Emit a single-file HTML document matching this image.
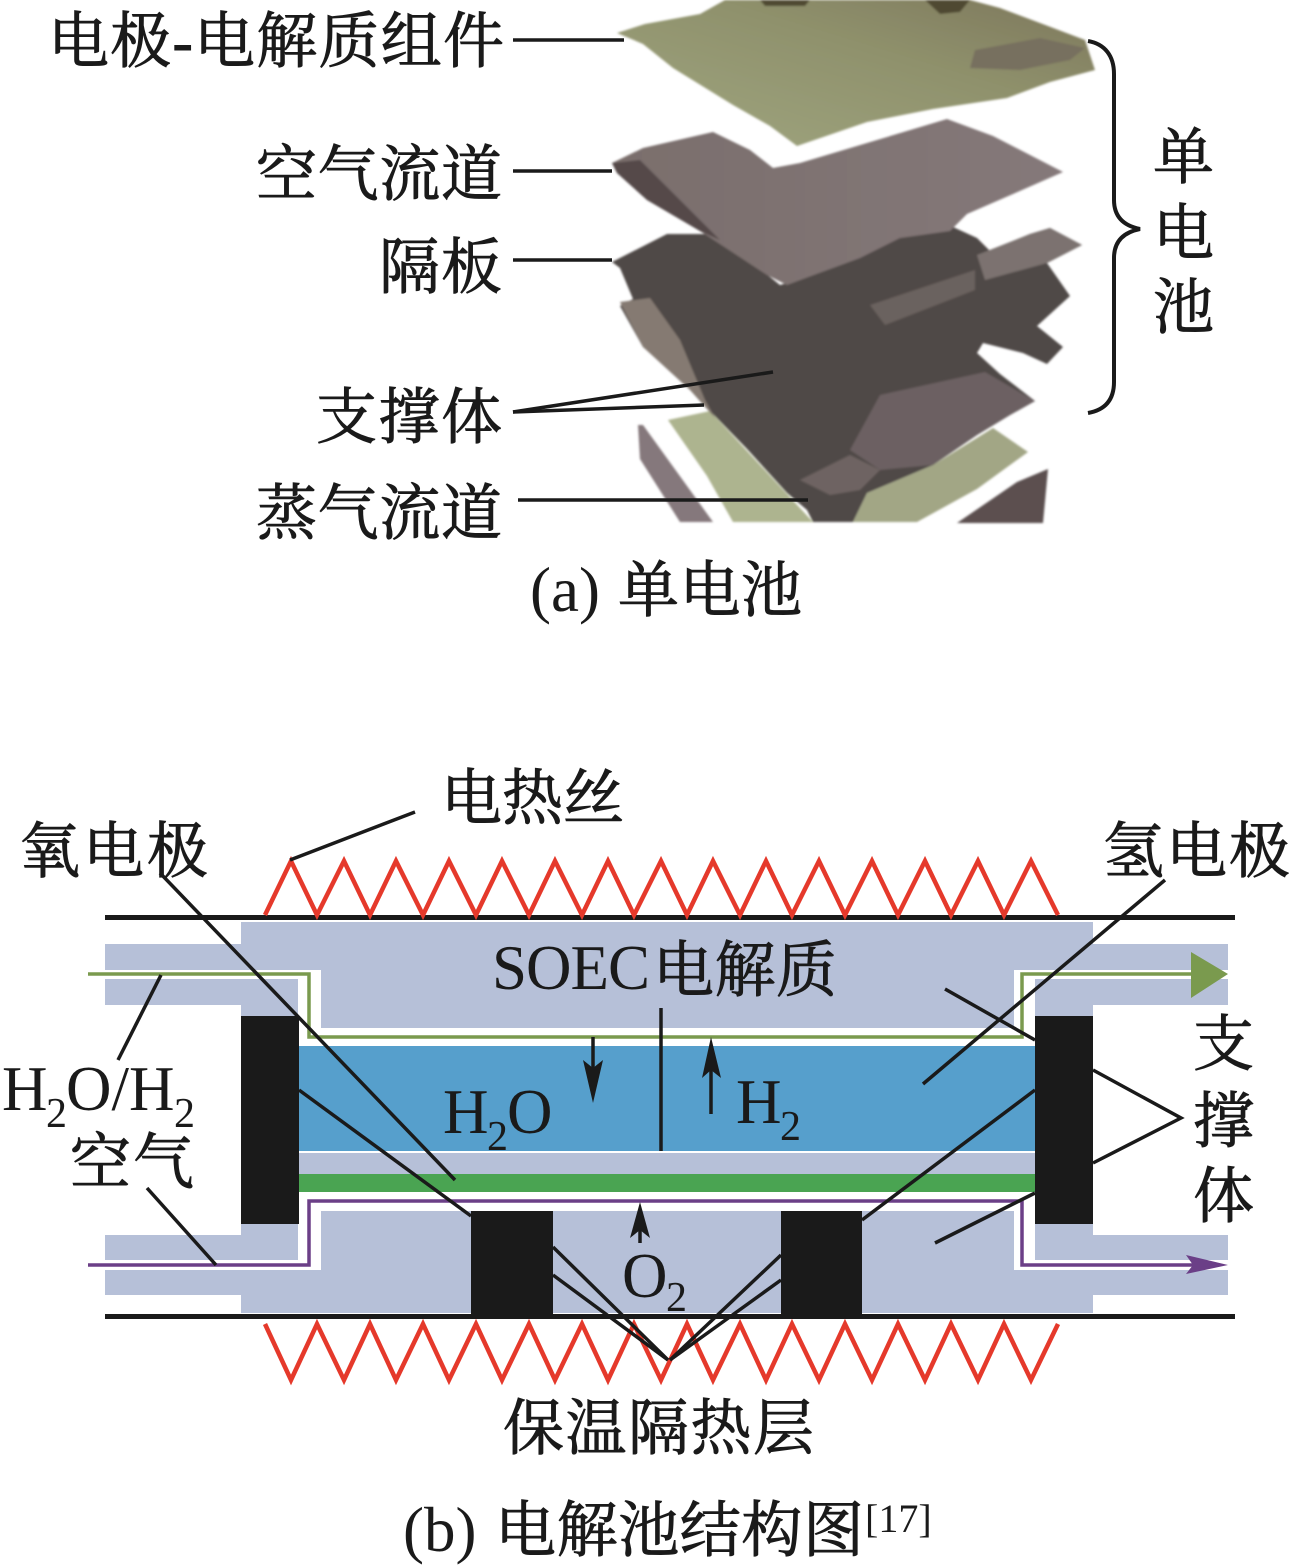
<!DOCTYPE html>
<html lang="zh">
<head>
<meta charset="utf-8">
<style>
html,body{margin:0;padding:0;background:#fff}
svg{display:block}
text{fill:#1a1a1a}
.c{font-family:"Liberation Serif","Noto Serif CJK SC",serif;font-size:61px;stroke:#1a1a1a;stroke-width:.9px}
.l{font-family:"Liberation Serif",serif;font-size:63px}
.s{font-family:"Liberation Serif",serif;font-size:42px}
.u{font-family:"Liberation Serif",serif;font-size:40px}
</style>
</head>
<body>
<svg xmlns="http://www.w3.org/2000/svg" width="1291" height="1568" viewBox="0 0 1291 1568">
<defs>
<linearGradient id="g1" x1="0" y1="1" x2="1" y2="0"><stop offset="0" stop-color="#a0a680"/><stop offset="0.6" stop-color="#8f916c"/><stop offset="1" stop-color="#7d775c"/></linearGradient>
<linearGradient id="g2" x1="0" y1="0" x2="1" y2="0"><stop offset="0" stop-color="#7a6e6c"/><stop offset="1" stop-color="#85797a"/></linearGradient>
<filter id="b" x="-5%" y="-5%" width="110%" height="110%"><feGaussianBlur stdDeviation="1"/></filter>
</defs>

<!-- photo of stack -->
<g filter="url(#b)">
<polygon fill="#adb48f" points="668,420 710,411 813,522 733,522 707,476"/>
<polygon fill="#a2a685" points="993,428 1028,452 977,489 917,522 853,522 867,493 933,465"/>
<polygon fill="#85787c" points="638,425 643,425 713,522 680,522 640,459"/>
<polygon fill="#5b5050" points="1048,469 1043,523 957,523 1017,482"/>
<polygon fill="url(#g1)" points="617,33 645,24 700,14 725,0 970,0 1000,8 1040,23 1085,40 1095,70 1050,82 1007,98 933,109 867,122 797,146 770,126 733,105 673,68 643,44"/>
<polygon fill="#4f4a30" points="760,0 810,0 805,6 765,6"/>
<polygon fill="#4f4a30" points="925,0 970,0 960,12 940,14"/>
<polygon fill="#77705e" points="975,50 1040,38 1085,48 1070,60 1020,70 970,68"/>
<polygon fill="#4f4846" points="612,262 667,234 717,234 780,285 800,279 860,250 903,234 940,221 977,238 990,251 1030,234 1050,228 1082,245 1047,263 1070,296 1037,326 1063,347 1047,364 1023,353 983,343 977,353 1000,374 1035,401 1010,415 977,435 933,465 867,493 853,522 813,522 807,510 787,493 747,449 710,411 680,377 643,347 620,306 633,299 620,268"/>
<polygon fill="#857a72" points="620,302 650,298 680,340 705,400 715,418 690,390 643,347"/>
<polygon fill="#6c6062" points="880,395 985,372 1035,401 1010,415 977,435 933,465 880,470 850,450"/>
<polygon fill="#6e6462" points="800,480 850,455 880,470 860,490 830,495"/>
<polygon fill="#7c7270" points="977,255 1030,234 1050,228 1082,245 1047,263 985,280"/>
<polygon fill="#6a625e" points="870,305 975,270 975,290 885,325"/>
<polygon fill="url(#g2)" points="612,163 643,148 713,132 750,150 773,168 800,163 867,143 947,119 993,136 1063,172 1013,194 967,214 950,231 900,238 860,258 803,279 787,285 767,275 700,231 647,200 617,173"/>
<polygon fill="#54494a" points="612,163 640,160 680,200 720,240 700,231 647,200 617,173"/>
</g>

<!-- leader lines part a -->
<g stroke="#1a1a1a" stroke-width="3.5" fill="none">
<line x1="513" y1="40" x2="624" y2="40"/>
<line x1="513" y1="171" x2="612" y2="171"/>
<line x1="513" y1="260" x2="612" y2="260"/>
<line x1="513" y1="412" x2="773" y2="372"/>
<line x1="513" y1="412" x2="704" y2="405"/>
<line x1="518" y1="500" x2="808" y2="500"/>
<path d="M1088,41 C1105,44 1114,56 1114,74 L1114,200 C1114,218 1125,226 1140,229 C1125,232 1114,240 1114,258 L1114,382 C1114,400 1105,410 1088,413" stroke-width="4"/>
</g>

<!-- part b shapes -->
<g fill="#b6c0d8">
<polygon points="241,922 1093,922 1093,944 1228,944 1228,970 1014,970 1014,1028 321,1028 321,970 105,970 105,944 241,944"/>
<polygon points="105,979 298,979 298,1016 241,1016 241,1005 105,1005"/>
<polygon points="1035,979 1228,979 1228,1005 1093,1005 1093,1016 1035,1016"/>
<polygon points="321,1211 1014,1211 1014,1270 1228,1270 1228,1295 1093,1295 1093,1313 241,1313 241,1295 105,1295 105,1270 321,1270"/>
<polygon points="241,1224 298,1224 298,1260 105,1260 105,1235 241,1235"/>
<polygon points="1035,1224 1093,1224 1093,1235 1228,1235 1228,1260 1035,1260"/>
<rect x="299" y="1153" width="736" height="21"/>
</g>
<rect x="299" y="1046" width="736" height="105" fill="#569fcc"/>
<rect x="299" y="1174" width="736" height="18" fill="#4aa452"/>
<g fill="#1a1a1a">
<rect x="241" y="1016" width="58" height="208"/>
<rect x="1035" y="1016" width="58" height="208"/>
<rect x="471" y="1211" width="82" height="105"/>
<rect x="781" y="1211" width="81" height="105"/>
<rect x="105" y="915" width="1130" height="5"/>
<rect x="105" y="1314" width="1130" height="5"/>
</g>

<!-- flow lines -->
<polyline fill="none" stroke="#7a9a4e" stroke-width="3.5" points="88,974 309,974 309,1037 1022,1037 1022,974 1195,974"/>
<polygon fill="#7a9a4e" points="1191,952 1228,974 1191,998"/>
<polyline fill="none" stroke="#6b3f87" stroke-width="3.5" points="88,1265 309,1265 309,1201 1022,1201 1022,1265 1200,1265"/>
<polygon fill="#6b3f87" points="1186,1255 1228,1265 1186,1274 1193,1265"/>

<!-- zigzags -->
<polyline fill="none" stroke="#e5392b" stroke-width="4.5" points="265,915 291,861 317,915 344,861 370,915 396,861 423,915 449,861 476,915 502,861 529,915 555,861 582,915 608,861 634,915 661,861 687,915 713,861 740,915 766,861 792,915 819,861 845,915 872,861 898,915 925,861 951,915 978,861 1004,915 1031,861 1058,915"/>
<polyline fill="none" stroke="#e5392b" stroke-width="4.5" points="265,1324 291,1380 317,1324 344,1380 370,1324 396,1380 423,1324 449,1380 476,1324 502,1380 529,1324 555,1380 582,1324 608,1380 634,1324 661,1380 687,1324 713,1380 740,1324 766,1380 792,1324 819,1380 845,1324 872,1380 898,1324 925,1380 951,1324 978,1380 1004,1324 1031,1380 1058,1324"/>

<!-- leaders part b -->
<g stroke="#1a1a1a" stroke-width="3.5" fill="none">
<line x1="290" y1="860" x2="415" y2="812"/>
<line x1="161" y1="975" x2="118" y2="1060"/>
<line x1="147" y1="1188" x2="216" y2="1265"/>
<line x1="160" y1="873" x2="455" y2="1180"/>
<line x1="299" y1="1090" x2="471" y2="1216"/>
<line x1="553" y1="1247" x2="668" y2="1360"/>
<line x1="553" y1="1275" x2="668" y2="1360"/>
<line x1="781" y1="1255" x2="670" y2="1360"/>
<line x1="781" y1="1280" x2="670" y2="1360"/>
<line x1="862" y1="1220" x2="1035" y2="1090"/>
<line x1="1165" y1="880" x2="923" y2="1084"/>
<line x1="945" y1="989" x2="1035" y2="1040"/>
<polyline points="1093,1070 1181,1118 1093,1163"/>
<line x1="1035" y1="1193" x2="935" y2="1243"/>
<line x1="661" y1="1008" x2="661" y2="1151"/>
<line x1="593" y1="1037" x2="593" y2="1075"/>
<line x1="711" y1="1070" x2="711" y2="1114"/>
<line x1="640" y1="1230" x2="640" y2="1243"/>
</g>
<g fill="#1a1a1a">
<polygon points="583,1060 593,1068 603,1060 593,1103"/>
<polygon points="702,1078 711,1070 721,1078 711,1037"/>
<polygon points="630,1238 640,1230 650,1238 640,1202"/>
</g>

<!-- text part a -->
<text class="c" x="48" y="62" textLength="456">电极-电解质组件</text>
<text class="c" x="256" y="195" textLength="246">空气流道</text>
<text class="c" x="379" y="288" textLength="123">隔板</text>
<text class="c" x="316" y="438" textLength="186">支撑体</text>
<text class="c" x="256" y="534" textLength="246">蒸气流道</text>
<text class="l" x="530" y="611">(a)</text>
<text class="c" x="618" y="611" textLength="184">单电池</text>
<text class="c" x="1153" y="178">单</text>
<text class="c" x="1153" y="254">电</text>
<text class="c" x="1153" y="328">池</text>

<!-- text part b -->
<text class="c" x="441" y="819" textLength="183">电热丝</text>
<text class="c" x="19" y="872" textLength="189">氧电极</text>
<text class="c" x="1103" y="872" textLength="187">氢电极</text>
<text class="l" x="492" y="989" textLength="158">SOEC</text>
<text class="c" x="653" y="991" textLength="184">电解质</text>
<text class="l" x="2" y="1110">H</text><text class="s" x="46" y="1127">2</text><text class="l" x="66" y="1110">O/H</text><text class="s" x="174" y="1127">2</text>
<text class="c" x="70" y="1183" textLength="124">空气</text>
<text class="l" x="443" y="1133">H</text><text class="s" x="487" y="1150">2</text><text class="l" x="507" y="1133">O</text>
<text class="l" x="736" y="1123">H</text><text class="s" x="780" y="1140">2</text>
<text class="l" x="622" y="1297">O</text><text class="s" x="666" y="1311">2</text>
<text class="c" x="1193" y="1065">支</text>
<text class="c" x="1193" y="1142">撑</text>
<text class="c" x="1193" y="1217">体</text>
<text class="c" x="503" y="1449" textLength="311">保温隔热层</text>
<text class="l" x="403" y="1551">(b)</text>
<text class="c" x="495" y="1551" textLength="369">电解池结构图</text>
<text class="u" x="865" y="1532">[17]</text>
</svg>
</body>
</html>
